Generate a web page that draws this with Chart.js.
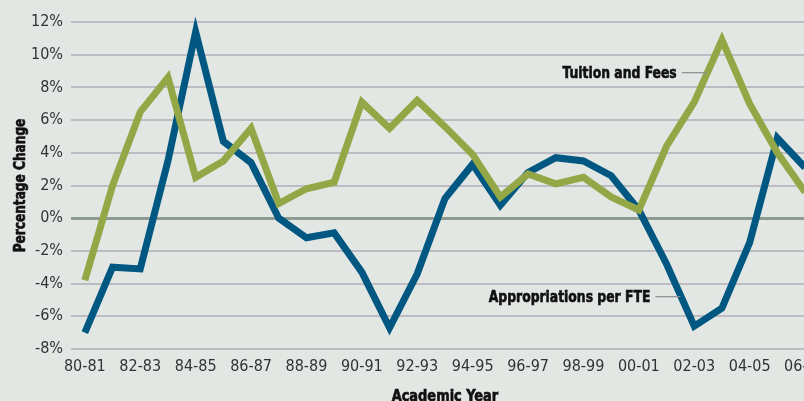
<!DOCTYPE html>
<html>
<head>
<meta charset="utf-8">
<script src="https://cdn.jsdelivr.net/npm/chart.js@4.4.1/dist/chart.umd.min.js"></script>
<style>
  html, body { margin: 0; padding: 0; background: #e2e7e3; overflow: hidden; }
  #wrap { width: 834px; height: 401px; position: relative; }
</style>
</head>
<body>
<div id="wrap"><canvas id="myChart"></canvas></div>
<script>
const years = ['80-81', '81-82', '82-83', '83-84', '84-85', '85-86', '86-87', '87-88', '88-89', '89-90',
  '90-91', '91-92', '92-93', '93-94', '94-95', '95-96', '96-97', '97-98', '98-99', '99-00',
  '00-01', '01-02', '02-03', '03-04', '04-05', '05-06', '06-07'];

const tuitionFees = [-3.8, 2.0, 6.5, 8.6, 2.5, 3.5, 5.5, 0.9, 1.8, 2.2,
  7.1, 5.5, 7.2, 5.6, 3.9, 1.3, 2.7, 2.1, 2.5, 1.3,
  0.5, 4.4, 7.1, 10.9, 7.0, 4.0, 1.6];

const appropriations = [-7.0, -3.0, -3.1, 3.5, 11.4, 4.7, 3.4, 0.0, -1.2, -0.9,
  -3.3, -6.7, -3.4, 1.2, 3.3, 0.8, 2.8, 3.7, 3.5, 2.6,
  0.5, -2.8, -6.6, -5.5, -1.5, 4.9, 3.1];

// labels pointing at the lines: [text, category index, value]
const notes = [
  ['Tuition and Fees', 22.45, 8.9],
  ['Appropriations per FTE', 21.5, -4.8]
];

const xTitle = 'Academic Year';
const yTitle = 'Percentage Change';

const font = '"Liberation Sans Narrow", "DejaVu Sans Condensed", Arial, sans-serif';

// draws condensed heavy text (the original uses a condensed black face)
function squeezed(ctx, text, x, y, size, sx, rot) {
  ctx.save();
  ctx.translate(x, y);
  if (rot) ctx.rotate(rot);
  ctx.scale(sx, 1);
  ctx.font = 'bold ' + size + 'px ' + font;
  ctx.lineWidth = 0.6;
  ctx.strokeStyle = '#111';
  ctx.fillText(text, 0, 0);
  ctx.strokeText(text, 0, 0);
  ctx.restore();
}

const notePlugin = {
  id: 'notes',
  afterDatasetsDraw(chart) {
    const ctx = chart.ctx;
    const x = chart.scales.x, y = chart.scales.y;
    const area = chart.chartArea;
    ctx.save();
    ctx.textBaseline = 'middle';
    ctx.fillStyle = '#111';
    notes.forEach(n => {
      const px = x.left + (n[1] + 0.5) * (x.width / years.length);
      const py = y.getPixelForValue(n[2]);
      ctx.strokeStyle = '#8a8f94';
      ctx.lineWidth = 1.2;
      ctx.beginPath();
      ctx.moveTo(px - 25, py);
      ctx.lineTo(px, py);
      ctx.stroke();
      ctx.textAlign = 'right';
      squeezed(ctx, n[0], px - 30, py + 1, 16, 0.86);
    });
    ctx.textAlign = 'center';
    squeezed(ctx, xTitle, (area.left + area.right) / 2, 397, 16, 0.9);
    squeezed(ctx, yTitle, 21, (area.top + area.bottom) / 2, 15, 0.9, -Math.PI / 2);
    ctx.restore();
  }
};

const ctx = document.getElementById('myChart').getContext('2d');
const myChart = new Chart(ctx, {
  type: 'line',
  data: {
    labels: years,
    datasets: [{
      label: 'Tuition and Fees',
      data: tuitionFees,
      borderColor: '#94a747',
      borderWidth: 7,
      pointRadius: 0,
      tension: 0,
      clip: false
    }, {
      label: 'Appropriations per FTE',
      data: appropriations,
      borderColor: '#005781',
      borderWidth: 7,
      pointRadius: 0,
      tension: 0,
      clip: false
    }]
  },
  options: {
    responsive: true,
    maintainAspectRatio: false,
    animation: false,
    layout: { padding: { top: 22, right: 3, left: 0, bottom: 0 } },
    plugins: {
      legend: { display: false },
      tooltip: { enabled: false }
    },
    scales: {
      x: {
        offset: true,
        grid: { display: false, drawTicks: false },
        border: { display: false },
        ticks: {
          autoSkip: false,
          maxRotation: 0,
          padding: 8,
          color: '#333',
          font: { family: font, size: 16 },
          callback: (v, i) => i % 2 === 0 ? years[i] : ''
        },
        afterFit: s => { s.height = 52; }
      },
      y: {
        min: -8,
        max: 12,
        grid: {
          drawTicks: false,
          color: c => c.tick && c.tick.value === 0 ? '#8d9b93' : '#bdbcc5',
          lineWidth: c => c.tick && c.tick.value === 0 ? 3 : 2
        },
        border: { display: false },
        ticks: {
          stepSize: 2,
          padding: 8,
          color: '#333',
          font: { family: font, size: 16 },
          callback: v => v + '%'
        },
        afterFit: s => { s.width = 71; }
      }
    }
  },
  plugins: [notePlugin]
});
</script>
</body>
</html>
